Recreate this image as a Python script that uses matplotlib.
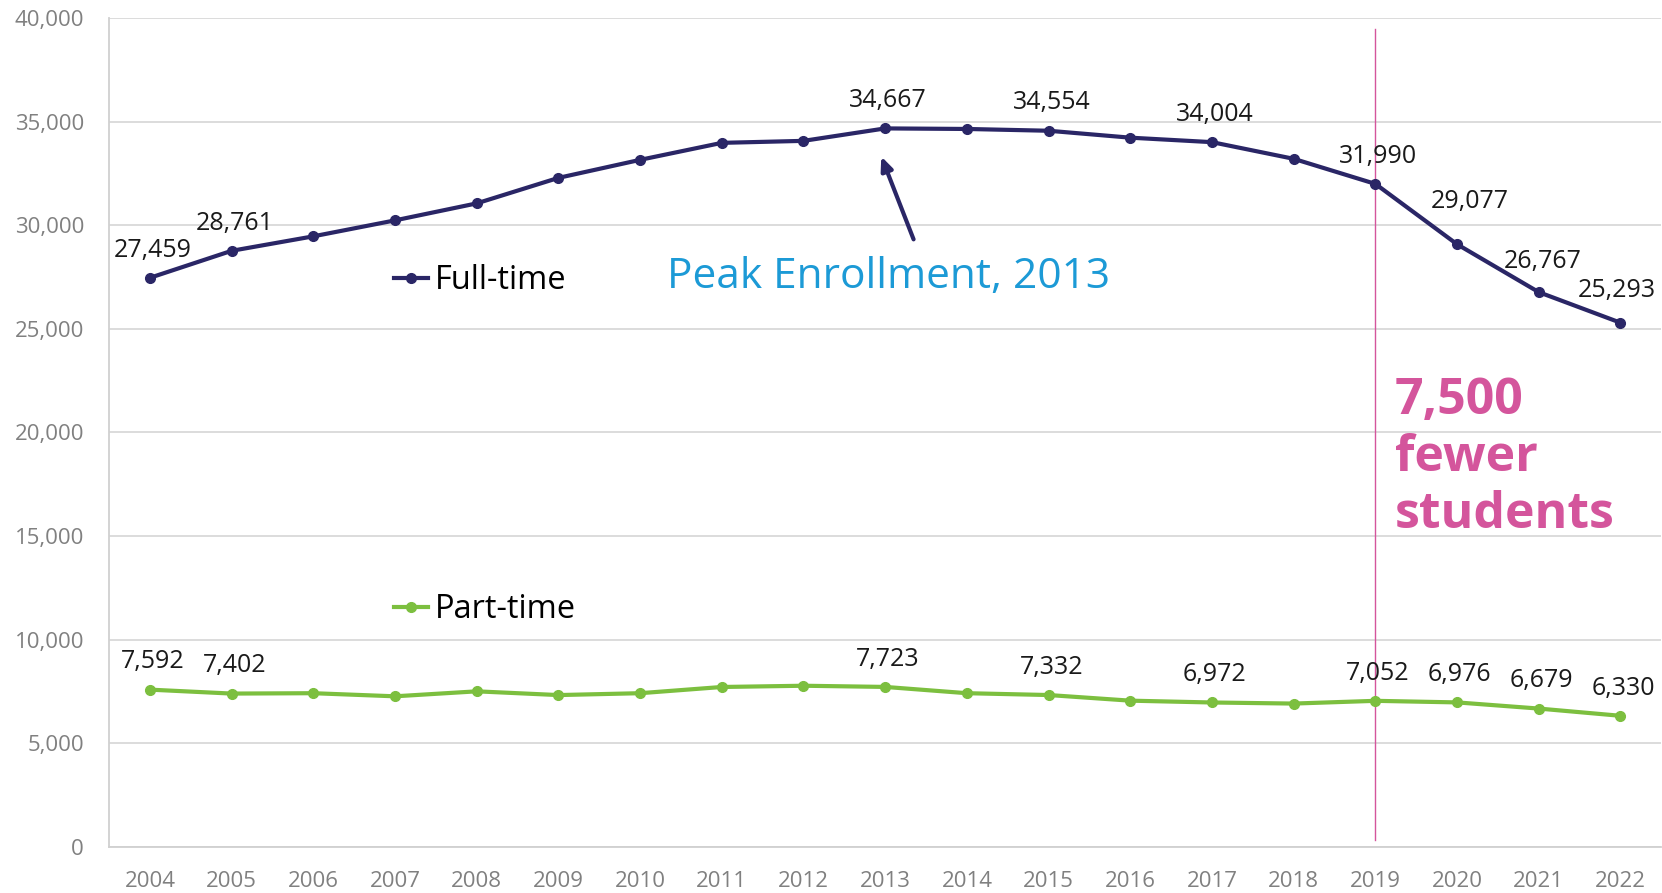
import matplotlib
matplotlib.use("Agg")
import matplotlib.pyplot as plt
from matplotlib.ticker import FuncFormatter

plt.rcParams['font.family'] = ['Open Sans', 'DejaVu Sans']

years = [str(y) for y in range(2004, 2023)]
full_time = [27459, 28761, 29460, 30230, 31050, 32280, 33150, 33970, 34066, 34667,
             34640, 34554, 34220, 34004, 33200, 31990, 29077, 26767, 25293]
part_time = [7592, 7402, 7420, 7270, 7510, 7330, 7420, 7720, 7780, 7723,
             7420, 7332, 7060, 6972, 6920, 7052, 6976, 6679, 6330]
labeled = [0, 1, 9, 11, 13, 15, 16, 17, 18]

navy = '#2a2666'
green = '#7cbf3f'
pink = '#d4559c'
blue = '#1c9ad6'

fig = plt.figure(figsize=(16.62, 8.93), dpi=100)
ax = fig.add_axes([0.0656, 0.0515, 0.934, 0.9285])

x = list(range(len(years)))
ft, = ax.plot(x, full_time, color=navy, lw=3, marker='o', ms=7, zorder=3)
pt, = ax.plot(x, part_time, color=green, lw=3, marker='o', ms=7, zorder=3)

# a few full-time labels sit off the default spot
ft_off = {16: (9, 31), 17: (3, 22), 18: (-3, 23)}
for i in labeled:
    ax.annotate(f"{full_time[i]:,}", (i, full_time[i]), xytext=ft_off.get(i, (2, 20)),
                textcoords='offset points', ha='center', va='center',
                fontsize=18, color='#1a1a1a')
    ax.annotate(f"{part_time[i]:,}", (i, part_time[i]), xytext=(2, 20),
                textcoords='offset points', ha='center', va='center',
                fontsize=18, color='#1a1a1a')

ax.set_xlim(-0.5, 18.5)
ax.set_ylim(0, 40000)
ax.set_xticks(x)
ax.set_xticklabels(years)
ax.set_yticks(range(0, 40001, 5000))
ax.yaxis.set_major_formatter(FuncFormatter(lambda v, p: f"{int(v):,}"))
ax.tick_params(axis='both', length=0, labelsize=16, labelcolor='#808080')
ax.tick_params(axis='x', pad=17)
ax.tick_params(axis='y', pad=18)
ax.grid(axis='y', color='#d9d9d9', lw=1.3)
ax.set_axisbelow(True)
for s in ['top', 'right']:
    ax.spines[s].set_visible(False)
for s in ['left', 'bottom']:
    ax.spines[s].set_color('#d0d0d0')
    ax.spines[s].set_linewidth(1.3)

# series labels placed like the original callouts
leg1 = ax.legend([ft], ['Full-time'], loc='center left', bbox_to_anchor=(0.1836, 0.683),
                 frameon=False, fontsize=23.5, handlelength=1.05, handletextpad=0.2,
                 borderpad=0, borderaxespad=0)
ax.add_artist(leg1)
ax.legend([pt], ['Part-time'], loc='center left', bbox_to_anchor=(0.1836, 0.2865),
          frameon=False, fontsize=23.5, handlelength=1.05, handletextpad=0.2,
          borderpad=0, borderaxespad=0)

# peak annotation
ax.annotate('', xy=(8.94, 33437), xytext=(9.36, 29190),
            arrowprops=dict(arrowstyle='-|>,head_length=0.8,head_width=0.35',
                            color=navy, lw=3))
ax.text(9.04, 27518, 'Peak Enrollment, 2013', color=blue, fontsize=30.5,
        ha='center', va='center')

# 2019 marker line
ax.axvline(15, ymin=0.008, ymax=0.986, color=pink, lw=1)
ax.text(15.24, 18770, '7,500\nfewer\nstudents', color=pink, fontsize=36,
        fontweight='bold', ha='left', va='center', linespacing=1.18)

fig.savefig('out.png', dpi=100)
